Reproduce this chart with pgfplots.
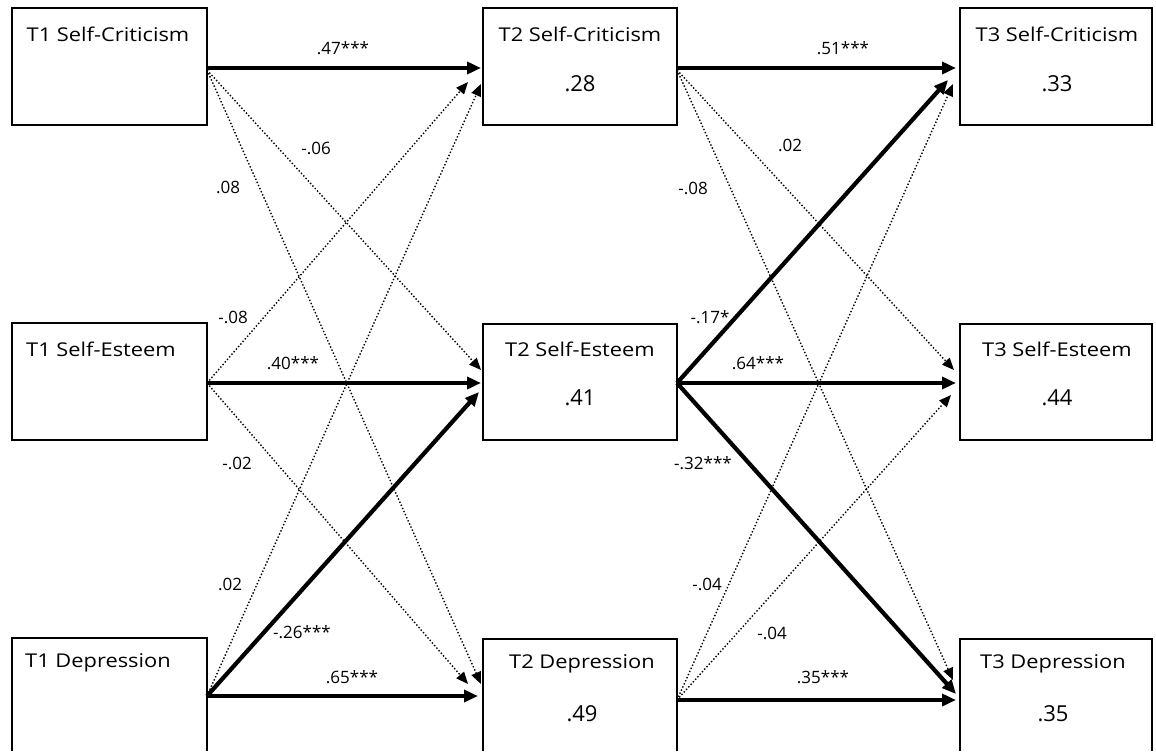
\documentclass[border=0pt]{standalone}
\usepackage{fontspec}
\setmainfont{Open Sans}
\newfontfamily\wide{Open Sans}[FakeStretch=1.15]
\usepackage{pgfplots}
\pgfplotsset{compat=1.18}
\usetikzlibrary{arrows.meta}
\tikzset{
  box/.style={black,line width=1pt,mark=none,line join=miter},
  thk/.style={black,line width=2.1pt,mark=none,-{Triangle[length=7pt,width=6pt]}},
  dot/.style={black,line width=0.7pt,mark=none,densely dotted,-{Triangle[length=6pt,width=5pt]}},
  ttl/.style={font=\wide\fontsize{9.5}{11}\selectfont,inner sep=0pt,anchor=center},
  val/.style={font=\fontsize{11}{13}\selectfont,inner sep=0pt,anchor=center},
  lab/.style={font=\fontsize{8.5}{10}\selectfont,inner sep=0pt,anchor=center}}
\begin{document}
\begin{tikzpicture}
\begin{axis}[width=578pt,height=375.5pt,scale only axis,
  xmin=0,xmax=1156,ymin=-751,ymax=0,hide axis,clip=false]
\path[draw=none] (rel axis cs:0,0) rectangle (rel axis cs:1,1);
% boxes
\addplot[box] coordinates {(12,-8)(207,-8)(207,-125)(12,-125)(12,-8)(207,-8)};
\addplot[box] coordinates {(483,-8)(677,-8)(677,-125)(483,-125)(483,-8)(677,-8)};
\addplot[box] coordinates {(960,-8)(1152,-8)(1152,-125)(960,-125)(960,-8)(1152,-8)};
\addplot[box] coordinates {(12,-323)(207,-323)(207,-440)(12,-440)(12,-323)(207,-323)};
\addplot[box] coordinates {(483,-324)(677,-324)(677,-440)(483,-440)(483,-324)(677,-324)};
\addplot[box] coordinates {(960,-324)(1152,-324)(1152,-440)(960,-440)(960,-324)(1152,-324)};
\addplot[box] coordinates {(12,-751)(12,-638)(207,-638)(207,-751)};
\addplot[box] coordinates {(483,-751)(483,-639)(677,-639)(677,-751)};
\addplot[box] coordinates {(960,-751)(960,-639)(1152,-639)(1152,-751)};
% dotted paths
\addplot[dot] coordinates {(207,-70)(481,-370)};
\addplot[dot] coordinates {(207,-70)(481,-684)};
\addplot[dot] coordinates {(207,-383)(468,-82)};
\addplot[dot] coordinates {(207,-383)(468,-684)};
\addplot[dot] coordinates {(207,-696)(481,-84)};
\addplot[dot] coordinates {(677,-70)(954,-370)};
\addplot[dot] coordinates {(677,-70)(953,-680)};
\addplot[dot] coordinates {(677,-700)(953,-84)};
\addplot[dot] coordinates {(677,-700)(951,-395)};
% thick paths
\addplot[thk] coordinates {(207,-68)(481,-68)};
\addplot[thk] coordinates {(207,-383)(481,-383)};
\addplot[thk] coordinates {(207,-696)(478,-696)};
\addplot[thk] coordinates {(207,-696)(479,-392)};
\addplot[thk] coordinates {(677,-68)(956,-68)};
\addplot[thk] coordinates {(677,-383)(956,-383)};
\addplot[thk] coordinates {(677,-700)(956,-700)};
\addplot[thk] coordinates {(677,-383)(948,-80)};
\addplot[thk] coordinates {(677,-383)(956,-694)};
% box texts
\node[ttl] at (axis cs:108,-34) {T1 Self-Criticism};
\node[ttl] at (axis cs:580,-34) {T2 Self-Criticism};
\node[val] at (axis cs:580,-84) {.28};
\node[ttl] at (axis cs:1057,-34) {T3 Self-Criticism};
\node[val] at (axis cs:1057,-84) {.33};
\node[ttl] at (axis cs:101,-349) {T1 Self-Esteem};
\node[ttl] at (axis cs:580,-349) {T2 Self-Esteem};
\node[val] at (axis cs:580,-398) {.41};
\node[ttl] at (axis cs:1057,-349) {T3 Self-Esteem};
\node[val] at (axis cs:1057,-398) {.44};
\node[ttl] at (axis cs:98,-663) {T1 Depression};
\node[ttl] at (axis cs:582,-664) {T2 Depression};
\node[val] at (axis cs:582,-714) {.49};
\node[ttl] at (axis cs:1053,-664) {T3 Depression};
\node[val] at (axis cs:1053,-714) {.35};
% path labels
\node[lab] at (axis cs:343,-48) {.47***};
\node[lab] at (axis cs:316,-148) {-.06};
\node[lab] at (axis cs:228,-187) {.08};
\node[lab] at (axis cs:233,-317) {-.08};
\node[lab] at (axis cs:293,-363) {.40***};
\node[lab] at (axis cs:237,-463) {-.02};
\node[lab] at (axis cs:230,-584) {.02};
\node[lab] at (axis cs:302,-632) {-.26***};
\node[lab] at (axis cs:352,-677) {.65***};
\node[lab] at (axis cs:843,-48) {.51***};
\node[lab] at (axis cs:790,-145) {.02};
\node[lab] at (axis cs:693,-188) {-.08};
\node[lab] at (axis cs:710,-317) {-.17*};
\node[lab] at (axis cs:758,-363) {.64***};
\node[lab] at (axis cs:703,-463) {-.32***};
\node[lab] at (axis cs:707,-584) {-.04};
\node[lab] at (axis cs:772,-633) {-.04};
\node[lab] at (axis cs:823,-677) {.35***};
\end{axis}
\end{tikzpicture}
\end{document}
